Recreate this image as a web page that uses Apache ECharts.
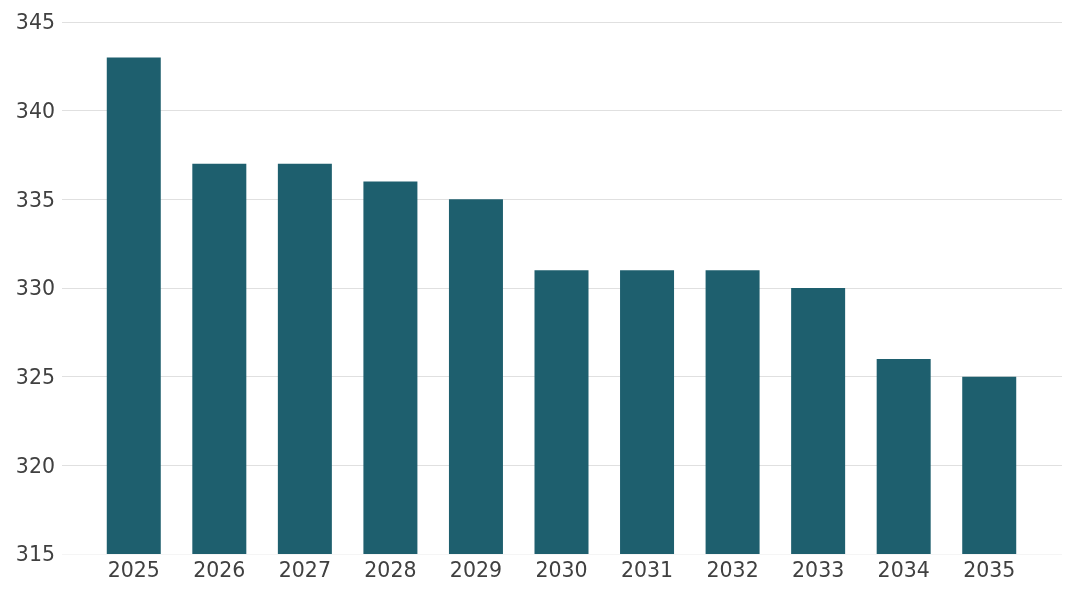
<!DOCTYPE html>
<html>
<head>
<meta charset="utf-8">
<script src="https://cdn.jsdelivr.net/npm/echarts@6/dist/echarts.min.js"></script>
<style>
  html, body { margin: 0; padding: 0; background: #fff; }
  #main { width: 1076px; height: 596px; }
</style>
</head>
<body>
<div id="main"></div>
<script>
var years = ['2025', '2026', '2027', '2028', '2029', '2030', '2031', '2032', '2033', '2034', '2035'];
var values = [343, 337, 337, 336, 335, 331, 331, 331, 330, 326, 325];
var yTicks = [315, 320, 325, 330, 335, 340, 345];

var myChart = echarts.init(document.getElementById('main'));
var textColor = '#404040';
var option = {
    animation: false,
    backgroundColor: '#ffffff',
    textStyle: { fontFamily: 'DejaVu Sans' },
    grid: [
        // full width grid: y labels and split lines
        { left: 62, right: 14, top: 22, bottom: 42 },
        // narrower grid for the bars
        { left: 91, right: 44, top: 22, bottom: 42 }
    ],
    xAxis: [{
        gridIndex: 0,
        type: 'category',
        data: years,
        show: false
    }, {
        gridIndex: 1,
        type: 'category',
        data: years,
        axisLine: { show: false },
        axisTick: { show: false },
        axisLabel: { color: textColor, fontSize: 20.5, margin: 7 }
    }],
    yAxis: [{
        gridIndex: 0,
        type: 'value',
        min: yTicks[0],
        max: yTicks[yTicks.length - 1],
        interval: 5,
        axisLine: { show: false },
        axisTick: { show: false },
        axisLabel: {
            color: textColor,
            fontSize: 20.5,
            margin: 7,
            formatter: '{a|{value}}',
            rich: { a: { color: textColor, fontSize: 20.5, padding: [4, 0, 0, 0] } }
        },
        splitLine: {
            lineStyle: {
                color: ['#f5f5f5', '#e0e0e0', '#e0e0e0', '#e0e0e0', '#e0e0e0', '#e0e0e0', '#e0e0e0'],
                width: 1
            }
        }
    }, {
        gridIndex: 1,
        type: 'value',
        min: yTicks[0],
        max: yTicks[yTicks.length - 1],
        interval: 5,
        show: false,
        splitLine: { show: false }
    }],
    series: [{
        type: 'bar',
        xAxisIndex: 1,
        yAxisIndex: 1,
        data: values,
        barWidth: 54,
        itemStyle: { color: '#1e5f6e' }
    }]
};
myChart.setOption(option);
window.addEventListener("resize", function () {
    myChart.resize();
});
</script>
</body>
</html>
